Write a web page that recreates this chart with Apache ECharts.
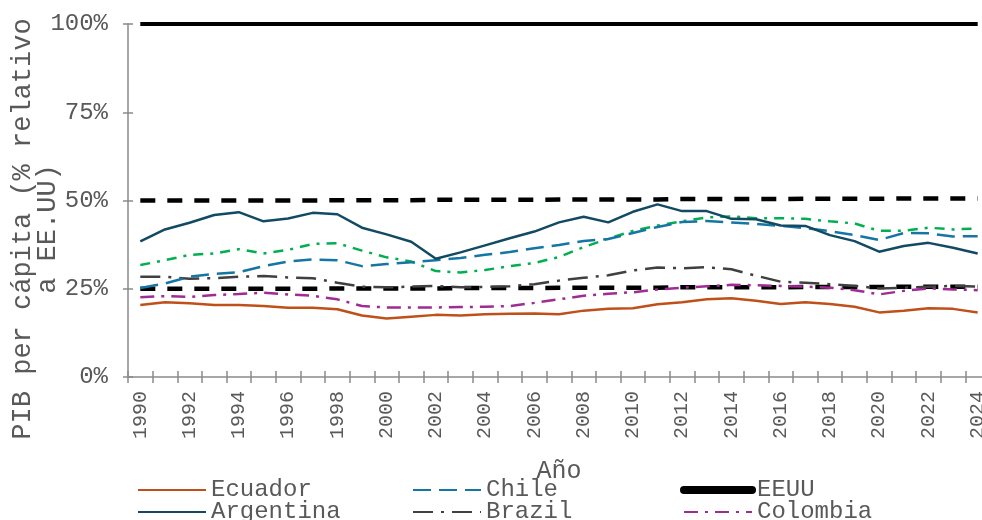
<!DOCTYPE html>
<html>
<head>
<meta charset="utf-8">
<script src="https://cdn.jsdelivr.net/npm/echarts@6/dist/echarts.min.js"></script>
<style>
  html, body { margin: 0; padding: 0; background: #fff; }
  #chart { width: 982px; height: 520px; }
</style>
</head>
<body>
<div id="chart"></div>
<script>
const years = [];
for (let y = 1990; y <= 2024; y++) years.push(String(y));

const ecuador = [20.4, 21.2, 20.9, 20.4, 20.4, 20.1, 19.6, 19.6, 19.2, 17.4, 16.6, 17.1, 17.6, 17.4, 17.8, 17.9, 18.0, 17.8, 18.8, 19.3, 19.5, 20.6, 21.2, 22.0, 22.3, 21.6, 20.7, 21.2, 20.7, 19.9, 18.3, 18.8, 19.5, 19.3, 18.3];
const chile = [25.2, 26.5, 28.4, 29.2, 29.7, 31.4, 32.7, 33.3, 33.1, 31.4, 32.0, 32.5, 33.1, 33.7, 34.6, 35.4, 36.5, 37.4, 38.5, 39.1, 40.8, 42.5, 43.9, 44.2, 43.8, 43.4, 42.8, 42.2, 41.3, 40.2, 38.8, 40.8, 40.7, 39.8, 39.9];
const eeuu = [100, 100, 100, 100, 100, 100, 100, 100, 100, 100, 100, 100, 100, 100, 100, 100, 100, 100, 100, 100, 100, 100, 100, 100, 100, 100, 100, 100, 100, 100, 100, 100, 100, 100, 100];
const argentina = [38.4, 41.8, 43.7, 45.9, 46.7, 44.1, 44.9, 46.5, 46.1, 42.3, 40.4, 38.3, 33.5, 35.3, 37.3, 39.3, 41.2, 43.8, 45.4, 43.8, 46.8, 48.9, 47.0, 47.0, 44.8, 44.7, 42.9, 42.8, 40.2, 38.5, 35.5, 37.1, 38.0, 36.6, 35.0];
const brazil = [28.4, 28.4, 27.8, 28.0, 28.4, 28.6, 28.2, 28.0, 26.7, 25.6, 25.4, 25.6, 25.8, 25.4, 25.5, 25.7, 26.3, 27.3, 28.1, 28.8, 30.2, 31.0, 30.8, 31.1, 30.5, 28.7, 27.0, 26.7, 26.3, 25.8, 25.1, 25.3, 25.6, 25.8, 25.6];
const colombia = [22.6, 22.9, 22.7, 23.2, 23.5, 23.9, 23.4, 23.0, 22.0, 20.1, 19.7, 19.7, 19.7, 19.8, 19.9, 20.1, 21.0, 22.0, 23.0, 23.6, 24.0, 24.8, 25.3, 25.7, 26.1, 26.0, 25.8, 25.6, 25.3, 24.6, 23.4, 24.4, 25.1, 24.8, 24.6];
const uruguay = [31.7, 33.1, 34.6, 35.0, 36.2, 35.0, 36.0, 37.7, 37.9, 35.8, 33.9, 32.7, 30.0, 29.6, 30.3, 31.4, 32.3, 34.0, 36.8, 39.2, 41.4, 42.9, 44.1, 45.2, 45.5, 45.0, 45.0, 44.8, 44.1, 43.5, 41.4, 41.4, 42.3, 41.8, 42.1];
const half = [50.0, 50.0, 50.0, 50.0, 50.0, 50.0, 50.0, 50.0, 50.1, 50.1, 50.1, 50.1, 50.2, 50.2, 50.2, 50.2, 50.2, 50.3, 50.3, 50.3, 50.3, 50.3, 50.4, 50.4, 50.4, 50.4, 50.4, 50.5, 50.5, 50.5, 50.5, 50.6, 50.6, 50.6, 50.6];
const quarter = [25.0, 25.0, 25.0, 25.0, 25.0, 25.0, 25.0, 25.0, 25.1, 25.1, 25.1, 25.1, 25.1, 25.2, 25.2, 25.2, 25.2, 25.3, 25.3, 25.3, 25.3, 25.3, 25.4, 25.4, 25.4, 25.4, 25.4, 25.5, 25.5, 25.5, 25.5, 25.6, 25.6, 25.6, 25.6];

const yTicks = [0, 25, 50, 75, 100];
const yTitle = 'PIB per cápita (% relativo\na EE.UU)';

const FONT = "'Liberation Mono', 'DejaVu Sans Mono', monospace";
const TEXT = '#595959';
const AXIS = '#8a8a8a';

function line(name, data, color, width, dash, extra) {
  return Object.assign({
    name: name,
    type: 'line',
    data: data,
    symbol: 'none',
    smooth: false,
    lineStyle: { color: color, width: width, type: dash },
    itemStyle: { color: color },
    z: 3
  }, extra || {});
}

function legendCol(left, items) {
  return {
    orient: 'vertical',
    left: left,
    top: 478,
    height: 60,
    itemWidth: 68,
    itemHeight: 14,
    itemGap: -2,
    padding: 0,
    itemStyle: { opacity: 0 },
    textStyle: { fontFamily: FONT, fontSize: 24, lineHeight: 14, color: TEXT },
    data: items
  };
}

const chart = echarts.init(document.getElementById('chart'));

chart.setOption({
  animation: false,
  grid: { left: 128, right: -8, top: 24, bottom: 143, containLabel: false, outerBoundsMode: 'none' },
  legend: [
    legendCol(137, ['Ecuador', 'Argentina']),
    legendCol(412, ['Chile', 'Brazil']),
    legendCol(680, [{ name: 'EEUU', lineStyle: { width: 8, cap: 'round' } }, 'Colombia'])
  ],
  // y-axis title, placed by hand so it sits a little below the axis middle like the original
  graphic: [{
    type: 'text',
    x: 35,
    y: 229,
    rotation: Math.PI / 2,
    style: {
      text: yTitle,
      font: '27px ' + FONT,
      fill: TEXT,
      align: 'center',
      verticalAlign: 'middle',
      lineHeight: 25
    }
  }],
  xAxis: [{
    type: 'category',
    data: years,
    boundaryGap: true,
    name: 'Año',
    nameLocation: 'middle',
    nameGap: 82,
    nameTextStyle: { fontFamily: FONT, fontSize: 25, color: TEXT },
    axisLine: { lineStyle: { color: AXIS, width: 1.5 } },
    axisTick: { show: true, interval: 0, length: 6, lineStyle: { color: AXIS, width: 1.5 } },
    axisLabel: { interval: 1, rotate: 90, margin: 14, fontFamily: FONT, fontSize: 20, color: TEXT },
    splitLine: { show: false }
  }, {
    type: 'category',
    data: years,
    position: 'bottom',
    boundaryGap: true,
    axisLine: { show: false },
    axisTick: { show: true, inside: true, interval: 0, length: 6, lineStyle: { color: AXIS, width: 1.5 } },
    axisLabel: { show: false },
    splitLine: { show: false }
  }],
  yAxis: [{
    type: 'value',
    min: yTicks[0],
    max: yTicks[yTicks.length - 1],
    interval: 25,
    axisLine: { show: true, lineStyle: { color: AXIS, width: 1.5 } },
    axisTick: { show: true, length: 5, lineStyle: { color: AXIS, width: 1.5 } },
    axisLabel: { margin: 20, fontFamily: FONT, fontSize: 24, color: TEXT, formatter: '{value}%' },
    splitLine: { show: false }
  }, {
    type: 'value',
    position: 'left',
    min: yTicks[0],
    max: yTicks[yTicks.length - 1],
    interval: 25,
    axisLine: { show: false },
    axisTick: { show: true, inside: true, length: 5, lineStyle: { color: AXIS, width: 1.5 } },
    axisLabel: { show: false },
    splitLine: { show: false }
  }],
  series: [
    line('50% EEUU', half, '#000000', 4.5, [15, 12], { z: 2 }),
    line('25% EEUU', quarter, '#000000', 4.5, [15, 12], { z: 2 }),
    line('Uruguay', uruguay, '#00b050', 2.5, [10, 7, 3, 7]),
    line('Brazil', brazil, '#404040', 2.5, [20, 8, 3, 8]),
    line('Colombia', colombia, '#a02b93', 2.5, [14, 7, 3, 7]),
    line('Ecuador', ecuador, '#c0501a', 2.5, 'solid'),
    line('Chile', chile, '#1576a3', 2.5, [18, 8]),
    line('Argentina', argentina, '#124a63', 2.5, 'solid'),
    line('EEUU', eeuu, '#000000', 4, 'solid', { clip: false })
  ]
});
</script>
</body>
</html>
